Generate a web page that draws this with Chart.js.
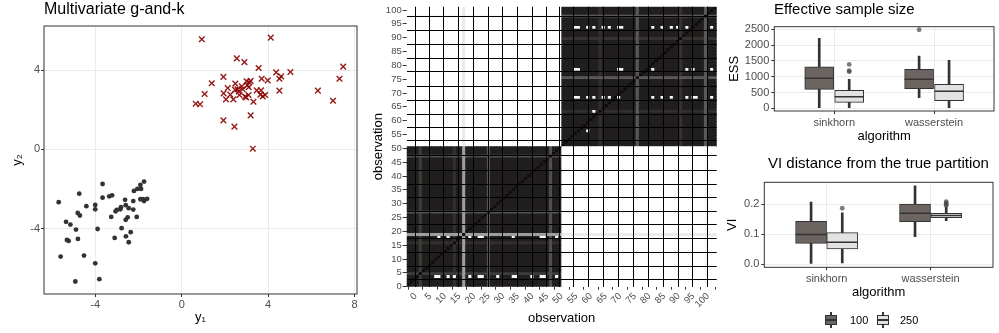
<!DOCTYPE html>
<html>
<head>
<meta charset="utf-8">
<title>Multivariate g-and-k</title>
<script src="https://cdn.jsdelivr.net/npm/chart.js@4.4.1/dist/chart.umd.min.js"></script>
<style>
  body { margin: 0; background: #fff; font-family: "Liberation Sans", Arial, sans-serif; }
  #figure { position: relative; width: 999px; height: 333px; overflow: hidden; background: #fff; }
  #figure canvas { position: absolute; }
  .title { position: absolute; font-size: 15px; line-height: 16px; color: #000; white-space: nowrap; }
  .key { position: absolute; top: 312px; width: 12px; height: 16px; }
  .key .whisker { position: absolute; left: 5px; top: 0; width: 2px; height: 16px; background: #333; }
  .key .box { position: absolute; left: 0; top: 3px; width: 10px; height: 8px; border: 1px solid #333; }
  .key .median { position: absolute; left: 1px; top: 7px; width: 10px; height: 1.5px; background: #333; }
  .keyLabel { position: absolute; top: 313px; font-size: 11px; line-height: 14px; color: #000; }
</style>
</head>
<body>
<div id="figure">
  <canvas id="scatter" width="365" height="333" style="left:0;top:0"></canvas>
  <canvas id="psm" width="360" height="333" style="left:365px;top:0"></canvas>
  <canvas id="ess" width="290" height="150" style="left:720px;top:0"></canvas>
  <canvas id="vi" width="290" height="158" style="left:720px;top:150px"></canvas>

  <div class="title" style="left:44px;top:1px;font-size:16px">Multivariate g-and-k</div>
  <div class="title" style="left:774px;top:1px">Effective sample size</div>
  <div class="title" style="left:768px;top:155px">VI distance from the true partition</div>

  <div class="key" style="left:825px"><div class="whisker"></div><div class="box" style="background:#6b6461"></div><div class="median"></div></div>
  <div class="keyLabel" style="left:850px">100</div>
  <div class="key" style="left:877px"><div class="whisker"></div><div class="box" style="background:#e3e1e1"></div><div class="median"></div></div>
  <div class="keyLabel" style="left:900px">250</div>
</div>

<script>
// Scatter: observations of the two groups
const group1X = [-5.69, -4.74, -4.41, -4.81, -4.71, -5.35, -5.15, -4.89, -3.89, -4.80, -5.31, -5.23, -5.60, -4.52, -4.00, -4.92, -3.81, -3.66, -3.66, -4.00, -4.00, -3.35, -3.22, -2.62, -2.81, -3.00, -3.06, -2.84, -2.59, -2.45, -3.26, -2.50, -2.59, -2.24, -2.08, -2.78, -3.10, -2.58, -2.36, -2.45, -2.21, -2.05, -1.88, -1.74, -1.91, -2.24, -1.91, -1.74, -1.60, -1.79];
const group1Y = [-2.67, -2.24, -2.87, -3.21, -3.34, -3.66, -3.80, -4.05, -4.02, -4.52, -4.57, -4.62, -5.41, -5.36, -5.75, -6.67, -6.55, -1.75, -2.44, -2.81, -3.03, -2.37, -2.32, -2.55, -2.92, -3.06, -3.13, -3.03, -2.82, -2.97, -3.41, -3.43, -3.56, -3.04, -3.41, -3.98, -4.47, -4.39, -4.18, -4.69, -2.10, -2.00, -2.00, -1.63, -1.80, -2.61, -2.52, -2.61, -2.50, -2.52];
const group2X = [0.93, 4.12, 2.55, 2.90, 3.56, 4.37, 5.03, 4.60, 4.52, 3.70, 3.98, 7.47, 7.30, 1.93, 1.39, 2.48, 3.00, 3.13, 3.19, 3.04, 2.78, 3.10, 2.13, 2.58, 2.64, 3.47, 3.67, 4.52, 6.30, 1.06, 1.94, 2.25, 2.67, 2.93, 3.09, 3.64, 3.86, 3.75, 2.05, 2.39, 2.98, 3.32, 7.00, 0.65, 0.85, 3.19, 1.93, 2.44, 3.29, 2.47, 2.82];
const group2Y = [5.55, 5.63, 4.59, 4.40, 4.10, 3.88, 3.90, 3.68, 3.56, 3.56, 3.48, 4.17, 3.56, 3.65, 3.33, 3.31, 3.43, 3.38, 3.45, 3.24, 3.18, 3.13, 3.09, 3.03, 2.92, 2.97, 2.97, 2.96, 2.96, 2.79, 2.82, 2.76, 2.74, 2.66, 2.74, 2.76, 2.74, 2.67, 2.52, 2.52, 2.62, 2.40, 2.45, 2.30, 2.27, 1.71, 1.46, 1.14, 0.03, 3.00, 3.03];
const scatterXTicks = [-4, 0, 4, 8];
const scatterYTicks = [-4, 0, 4];

// Posterior similarity matrix (100 observations, two blocks)
const blockSizes = [50, 50];
const withinSim = 0.92;
const crossSim = 0;
const stripeObs = [5, 16, 19, 27, 47, 63, 75, 89, 97];
const stripeWithin = [0.8, 0.85, 0.4, 0.7, 0.72, 0.85, 0.68, 0.84, 0.68];
const stripeCross = [0, 0, 0.08, 0, 0, 0, 0, 0, 0.03];
const lowRows = [4, 18, 68, 78, 93];
const lowCols = [
    [10, 11, 14, 16, 21, 24, 25, 30, 35, 36, 41, 44, 45, 49],
    [11, 14, 21, 24, 25, 35, 44, 45, 49],
    [55, 56, 59, 61, 64, 66, 69, 80, 83, 86, 91, 93, 94, 99],
    [55, 56, 69, 70, 80, 91, 93, 99],
    [55, 56, 59, 61, 64, 66, 69, 70, 80, 83, 86, 88, 91, 93, 99]
];
const lowCells = [[61, 63], [59, 56]];  // [column, row]
const psmTicks = [0, 5, 10, 15, 20, 25, 30, 35, 40, 45, 50, 55, 60, 65, 70, 75, 80, 85, 90, 95, 100];

// Box plots: [lower whisker, Q1, median, Q3, upper whisker] per algorithm
const algorithms = ['sinkhorn', 'wasserstein'];
const ess100 = [[20, 601, 949, 1316, 2215], [335, 620, 918, 1234, 1655]];
const ess250 = [[20, 190, 367, 570, 918], [20, 241, 538, 759, 1519]];
const essOut100 = [[], [2487]];
const essOut250 = [[1390, 1190, 1160], []];
const essTicks = [0, 500, 1000, 1500, 2000, 2500];
const vi100 = [[0.0, 0.069, 0.099, 0.143, 0.208], [0.092, 0.142, 0.170, 0.201, 0.262]];
const vi250 = [[0.004, 0.051, 0.073, 0.105, 0.172], [0.145, 0.155, 0.163, 0.170, 0.192]];
const viOut100 = [[], []];
const viOut250 = [[0.187], [0.196, 0.200, 0.205, 0.209]];
const viTicks = [0, 0.1, 0.2];

document.addEventListener('DOMContentLoaded', function() {
    Chart.defaults.font.family = "'Liberation Sans', Arial, sans-serif";
    Chart.defaults.color = '#4d4d4d';
    Chart.defaults.animation = false;
    Chart.defaults.events = [];
    Chart.defaults.plugins.legend.display = false;
    Chart.defaults.plugins.tooltip.enabled = false;

    const gridColor = '#ebebeb';
    const axisTitle = text => ({ display: true, text: text, color: '#000', font: { size: 13 }, padding: { top: 4, bottom: 4 } });
    const useTicks = values => function(scale) { scale.ticks = values.map(v => ({ value: v })); };
    const fixWidth = w => function(scale) { scale.width = w; };
    const fixHeight = h => function(scale) { scale.height = h; };

    // dark frame round the panel (theme_bw)
    const panelFrame = {
        id: 'panelFrame',
        afterDraw(chart) {
            const a = chart.chartArea, ctx = chart.ctx;
            ctx.save();
            ctx.strokeStyle = '#333';
            ctx.lineWidth = 1;
            ctx.strokeRect(a.left, a.top, a.right - a.left, a.bottom - a.top);
            ctx.restore();
        }
    };

    // Scatter plot
    var ctx1 = document.getElementById('scatter').getContext('2d');
    new Chart(ctx1, {
        type: 'scatter',
        data: {
            datasets: [
                {
                    data: group1X.map((x, i) => ({ x: x, y: group1Y[i] })),
                    pointRadius: 2.4,
                    pointBackgroundColor: '#333333',
                    pointBorderWidth: 0
                },
                {
                    data: group2X.map((x, i) => ({ x: x, y: group2Y[i] })),
                    pointStyle: 'crossRot',
                    pointRadius: 4,
                    pointBorderColor: 'rgba(139, 0, 0, 0.9)',
                    pointBorderWidth: 1.4
                }
            ]
        },
        options: {
            responsive: false,
            layout: { padding: { top: 26, right: 8, left: 6, bottom: 4 } },
            scales: {
                x: {
                    type: 'linear', min: -6.37, max: 8.11,
                    afterBuildTicks: useTicks(scatterXTicks),
                    ticks: { font: { size: 11 }, padding: 1 },
                    grid: { color: gridColor, tickColor: '#333', tickLength: 3 },
                    border: { display: false },
                    title: axisTitle('y₁'),
                    afterFit: fixHeight(35)
                },
                y: {
                    type: 'linear', min: -7.3, max: 6.22,
                    afterBuildTicks: useTicks(scatterYTicks),
                    ticks: { font: { size: 11 }, padding: 1 },
                    grid: { color: gridColor, tickColor: '#333', tickLength: 3 },
                    border: { display: false },
                    title: axisTitle('y₂'),
                    afterFit: fixWidth(38)
                }
            }
        },
        plugins: [panelFrame]
    });

    // Similarity matrix as floating bars, one dataset per row
    const nObs = blockSizes.reduce((a, b) => a + b, 0);
    const blockOf = [];
    blockSizes.forEach((n, b) => { for (let k = 0; k < n; k++) blockOf.push(b); });

    function similarity(r, c) {
        if (r === c) return 1;
        const low = lowRows.indexOf(r);
        if (low >= 0 && lowCols[low].includes(c)) return 0.03;
        if (lowCells.some(p => p[0] === c && p[1] === r)) return 0.03;
        const sr = stripeObs.indexOf(r), sc = stripeObs.indexOf(c);
        let s;
        if (blockOf[r - 1] === blockOf[c - 1]) {
            s = withinSim;
            if (sr >= 0) s = Math.min(s, stripeWithin[sr]);
            if (sc >= 0) s = Math.min(s, stripeWithin[sc]);
        } else {
            s = crossSim;
            if (sr >= 0) s = Math.max(s, stripeCross[sr]);
            if (sc >= 0) s = Math.max(s, stripeCross[sc]);
        }
        return s;
    }

    function simColor(v) {
        const f = ch => Math.round(255 + (ch - 255) * v);
        return 'rgb(' + f(14) + ',' + f(11) + ',' + f(10) + ')';
    }

    const psmDatasets = [];
    for (let r = 1; r <= nObs; r++) {
        const cells = [], colors = [];
        for (let c = 1; c <= nObs; c++) {
            cells.push({ x: c, y: [r - 0.5, r + 0.5] });
            colors.push(simColor(similarity(r, c)));
        }
        psmDatasets.push({
            data: cells,
            backgroundColor: colors,
            borderWidth: 0,
            grouped: false,
            barPercentage: 1,
            categoryPercentage: 1,
            inflateAmount: 0.4,
            xAxisID: 'xc',
            yAxisID: 'yc'
        });
    }

    // black seams left by the raster image
    const seamLinesX = [2.2, 7.1, 12.0, 17.4, 22.3, 27.2, 32.1, 37.5, 42.4, 47.3, 51.4, 56.6, 61.7, 66.9, 71.8, 77.2, 82.1, 87.6, 92.5, 97.4];
    const seamLinesY = [2.6, 7.3, 12.4, 17.4, 22.5, 27.2, 32.2, 36.9, 42.0, 47.4, 52.7, 57.4, 62.3, 67.3, 72.3, 77.6, 82.6, 87.5, 92.5, 97.5];
    const seamAxis = (pos, min, max, lines) => ({
        type: 'linear', position: pos, min: min, max: max,
        afterBuildTicks: useTicks(lines),
        ticks: { display: false },
        grid: { color: '#000', lineWidth: 1, z: 1, drawTicks: false },
        border: { display: false },
        afterFit: pos === 'left' ? fixWidth(0) : fixHeight(0)
    });

    var ctx2 = document.getElementById('psm').getContext('2d');
    new Chart(ctx2, {
        type: 'bar',
        data: { datasets: psmDatasets },
        options: {
            responsive: false,
            layout: { padding: { top: 1.7, right: 8.3, left: 1.5, bottom: 3 } },
            scales: {
                xc: { type: 'linear', position: 'bottom', min: 0.5, max: 100.5, offset: false, display: false, ticks: { stepSize: 10, includeBounds: false } },
                yc: { type: 'linear', position: 'left', min: 0.5, max: 100.5, display: false, ticks: { stepSize: 10, includeBounds: false } },
                x: {
                    type: 'linear', position: 'bottom', min: -0.5, max: 100.5,
                    afterBuildTicks: useTicks(psmTicks),
                    ticks: { autoSkip: false, minRotation: 45, maxRotation: 45, font: { size: 9.5 }, padding: 1 },
                    grid: { drawOnChartArea: false, tickColor: '#333', tickLength: 3 },
                    border: { display: false },
                    title: axisTitle('observation'),
                    afterFit: fixHeight(43.3)
                },
                y: {
                    type: 'linear', position: 'left', min: 0, max: 101.2,
                    afterBuildTicks: useTicks(psmTicks),
                    ticks: { autoSkip: false, font: { size: 9.5 }, padding: 1 },
                    grid: { drawOnChartArea: false, tickColor: '#333', tickLength: 4 },
                    border: { display: false },
                    title: axisTitle('observation'),
                    afterFit: fixWidth(40.2)
                },
                xs: seamAxis('bottom', -0.5, 100.5, seamLinesX),
                ys: seamAxis('left', 0, 101.2, seamLinesY)
            }
        }
    });

    // Box plots built from whisker bars, box bars, median marks and outlier points
    const dodge = 0.15;
    function boxDatasets(stats, outliers, shift, fill, boxPx) {
        const at = i => i + 1 + shift;
        return [
            {
                type: 'scatter', order: 0,
                data: outliers.flatMap((vals, i) => vals.map(v => ({ x: at(i), y: v }))),
                pointRadius: 2.4, pointBackgroundColor: 'rgba(70, 70, 70, 0.7)', pointBorderWidth: 0
            },
            {
                type: 'scatter', order: 1,
                data: stats.map((s, i) => ({ x: at(i), y: s[2] })),
                pointStyle: 'line', pointRadius: boxPx / 2, pointBorderColor: '#333', pointBorderWidth: 1.5
            },
            {
                type: 'bar', order: 2,
                data: stats.map((s, i) => ({ x: at(i), y: [s[1], s[3]] })),
                backgroundColor: fill, borderColor: '#333', borderWidth: 1, borderSkipped: false,
                barThickness: boxPx, grouped: false
            },
            {
                type: 'bar', order: 3,
                data: stats.map((s, i) => ({ x: at(i), y: [s[0], s[4]] })),
                backgroundColor: '#333', borderWidth: 0, barThickness: 2, grouped: false
            }
        ];
    }

    function boxChart(id, stats100, stats250, out100, out250, yMin, yMax, yTicks, yLabel, boxPx, padding, yWidth, xHeight) {
        var ctx = document.getElementById(id).getContext('2d');
        return new Chart(ctx, {
            type: 'bar',
            data: {
                datasets: boxDatasets(stats100, out100, -dodge, '#6b6461', boxPx)
                    .concat(boxDatasets(stats250, out250, dodge, '#e3e1e1', boxPx))
            },
            options: {
                responsive: false,
                layout: { padding: padding },
                scales: {
                    x: {
                        type: 'linear', min: 0.4, max: 2.6, offset: false,
                        afterBuildTicks: useTicks([1, 2]),
                        ticks: { font: { size: 11 }, padding: 2, callback: (v, i) => algorithms[i] },
                        grid: { color: gridColor, tickColor: '#333', tickLength: 3, offset: false },
                        border: { display: false },
                        title: axisTitle('algorithm'),
                        afterFit: fixHeight(xHeight)
                    },
                    y: {
                        type: 'linear', min: yMin, max: yMax,
                        afterBuildTicks: useTicks(yTicks),
                        ticks: { font: { size: 11 }, padding: 2, callback: v => yLabel === 'VI' ? v.toFixed(1) : String(v) },
                        grid: { color: gridColor, tickColor: '#333', tickLength: 3 },
                        border: { display: false },
                        title: axisTitle(yLabel),
                        afterFit: fixWidth(yWidth)
                    }
                }
            },
            plugins: [panelFrame]
        });
    }

    // Effective sample size
    boxChart('ess', ess100, ess250, essOut100, essOut250, -85, 2583, essTicks, 'ESS', 29,
        { top: 26.7, right: 7, left: 3, bottom: 2 }, 51.3, 37);

    // VI distance from the true partition
    boxChart('vi', vi100, vi250, viOut100, viOut250, -0.011, 0.274, viTicks, 'VI', 31,
        { top: 32.3, right: 6, left: 1, bottom: 4 }, 43.3, 36.7);
});
</script>
</body>
</html>
